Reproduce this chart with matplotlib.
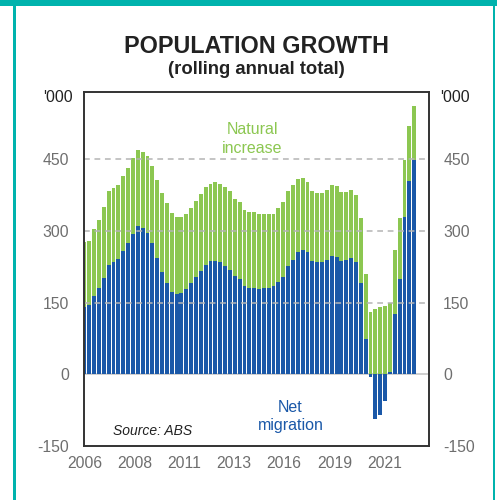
import matplotlib
matplotlib.use("Agg")
import matplotlib.pyplot as plt
from matplotlib.patches import Rectangle
import numpy as np
import pandas as pd

# Rolling annual totals, '000, quarterly from March 2006 to March 2023
quarters = pd.period_range("2006Q1", "2023Q1", freq="Q")

net_migration = [
    140, 144, 164, 180, 202, 229, 235, 241, 259, 274,
    294, 311, 307, 296, 274, 244, 215, 192, 173, 169,
    171, 179, 191, 203, 217, 228, 237, 237, 234, 226,
    218, 206, 199, 185, 181, 180, 178, 181, 181, 184,
    193, 203, 226, 240, 256, 260, 256, 238, 235, 235,
    239, 248, 246, 238, 239, 244, 236, 190, 73, -6,
    -94, -85, -56, 4, 126, 199, 329, 404, 449,
]

natural_increase = [
    137, 135, 139, 142, 149, 154, 155, 156, 156, 157,
    158, 159, 158, 160, 162, 163, 164, 166, 164, 160,
    158, 156, 157, 159, 160, 163, 162, 166, 165, 166,
    165, 161, 161, 159, 158, 159, 157, 154, 154, 151,
    154, 157, 158, 156, 153, 150, 146, 145, 145, 145,
    147, 149, 147, 144, 143, 141, 139, 137, 137, 131,
    137, 140, 142, 146, 135, 128, 119, 115, 112,
]

year_labels = ["2006", "2008", "2011", "2013", "2016", "2019", "2021"]
y_ticks = [-150, 0, 150, 300, 450]

BLUE = "#1a58a8"
GREEN = "#8cc751"
TEAL = "#00b3ad"
GRID = "#b4b4b4"
TICK = "#6e6e6e"
DARK = "#222222"

plt.rcParams["font.family"] = ["Liberation Sans", "DejaVu Sans"]

W, H = 497, 500
fig = plt.figure(figsize=(W / 100, H / 100), dpi=100)


def fx(x):
    return x / W


def fy(y):
    return 1 - y / H


# Frame decoration
fig.add_artist(Rectangle((0, fy(6)), 1, 6 / H, transform=fig.transFigure,
                         color=TEAL, lw=0))
fig.add_artist(Rectangle((fx(13), 0), 2.5 / W, 1, transform=fig.transFigure,
                         color=TEAL, lw=0))
fig.add_artist(Rectangle((fx(492.5), 0), 2.5 / W, 1, transform=fig.transFigure,
                         color=TEAL, lw=0))

ax = fig.add_axes([fx(83.5), fy(446), fx(428.7) - fx(83.5), fy(92.3) - fy(446)])

x = np.arange(len(quarters))
nom = np.array(net_migration)
nat = np.array(natural_increase)

ax.bar(x, nom, width=0.8, color=BLUE, lw=0, zorder=2)
ax.bar(x, nat, bottom=np.maximum(nom, 0), width=0.8, color=GREEN, lw=0, zorder=2)

ax.set_xlim(-0.2, 71.0)
ax.set_ylim(-150, 590)

# zero line and dashed gridlines
ax.axhline(0, color="#cfcfcf", lw=1.4, zorder=1)
for v in (150, 300, 450):
    ax.axhline(v, color=GRID, lw=1.3, ls=(0, (3.2, 2.6)), alpha=0.85, zorder=3)

ax.set_yticks(y_ticks)
ax.set_yticklabels([str(v) for v in y_ticks])
ax.tick_params(axis="y", which="both", length=0, labelsize=11.3, labelcolor=TICK,
               pad=10.4, labelleft=True, labelright=True)

ax.set_xticks([0, 10.3, 20.5, 30.9, 41.2, 51.6, 61.9])
ax.set_xticklabels(year_labels)
ax.tick_params(axis="x", length=0, labelsize=11.3, labelcolor=TICK, pad=7.5)

for s in ax.spines.values():
    s.set_color("#333333")
    s.set_linewidth(1.4)
    s.set_zorder(4)

# Titles
fig.text(fx(256), fy(53.3), "POPULATION GROWTH", ha="center", va="baseline",
         fontsize=16.8, fontweight="bold", color=DARK)
fig.text(fx(256), fy(74), "(rolling annual total)", ha="center", va="baseline",
         fontsize=13.3, fontweight="bold", color=DARK)

# Unit labels
fig.text(fx(73), fy(102), "'000", ha="right", va="baseline", fontsize=11.4, color=DARK)
fig.text(fx(440), fy(102), "'000", ha="left", va="baseline", fontsize=11.4, color=DARK)

# Series labels
fig.text(fx(252.5), fy(134.3), "Natural", ha="center", va="baseline",
         fontsize=11.5, color=GREEN)
fig.text(fx(252.5), fy(153.3), "increase", ha="center", va="baseline",
         fontsize=11.5, color=GREEN)
fig.text(fx(290.5), fy(411.7), "Net", ha="center", va="baseline",
         fontsize=11.5, color=BLUE)
fig.text(fx(290.5), fy(430), "migration", ha="center", va="baseline",
         fontsize=11.5, color=BLUE)

fig.text(fx(113.3), fy(435), "Source: ABS", ha="left", va="baseline",
         fontsize=10, style="italic", color=DARK)

fig.savefig("out.png", dpi=100)
